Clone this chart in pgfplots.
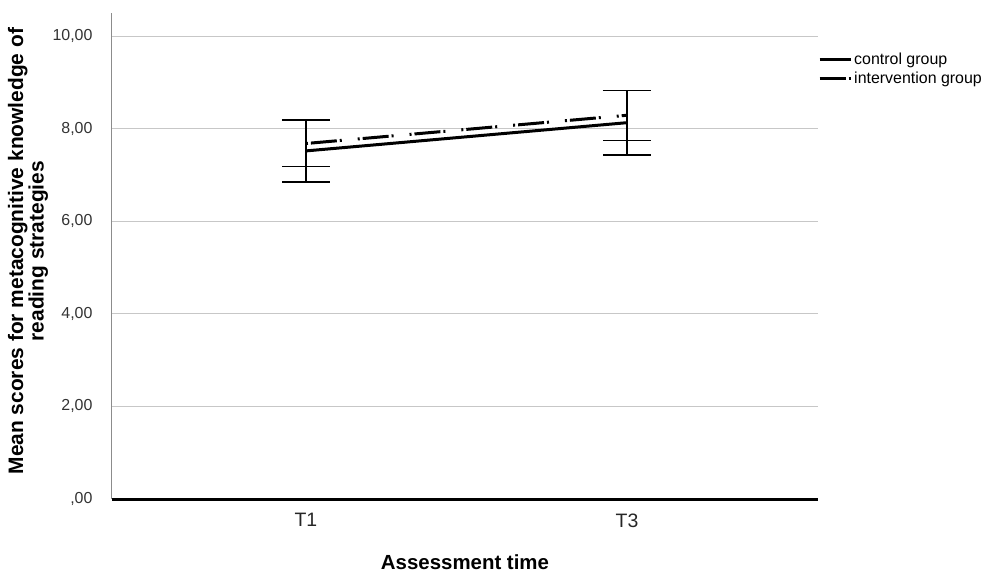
\documentclass[border=0pt]{standalone}
\usepackage{fontspec}
\setmainfont{Liberation Sans}
\usepackage{pgfplots}
\pgfplotsset{compat=1.18}
\begin{document}
\begin{tikzpicture}
\begin{axis}[
  scale only axis, width=706bp, height=486bp,
  xmin=-0.604, xmax=1.595, ymin=0, ymax=10.5,
  axis x line=bottom, axis y line=left,
  every outer x axis line/.append style={-, black, line width=3bp},
  every outer y axis line/.append style={-, black!45, line width=1bp},
  xtick={0,1}, xticklabels={T1,T3},
  ytick={0,2,4,6,8,10},
  yticklabels={{,00},{2,00},{4,00},{6,00},{8,00},{10,00}},
  major tick length=0pt,
  ymajorgrids, grid style={black!22, line width=1.2bp},
  yticklabel style={font=\fontsize{16}{18}\selectfont, text=black!80, xshift=-16bp},
  xticklabel style={font=\fontsize{19.5}{22}\selectfont, text=black!85, yshift=-11bp},
  xlabel={Assessment time},
  xlabel style={font=\bfseries\fontsize{20.5}{22}\selectfont, at={(axis description cs:0.5,-0.1296)}, anchor=center},
  ylabel={Mean scores for metacognitive knowledge of\\reading strategies},
  ylabel style={font=\bfseries\fontsize{21}{19}\selectfont, align=center, at={(axis description cs:-0.119,0.51)}, anchor=center},
  clip=false,
  legend style={draw=none, fill=none, at={(axis description cs:1,0.884)}, anchor=west,
    inner xsep=0pt, inner ysep=0pt, font=\fontsize{16}{18}\selectfont, row sep=2bp,
    cells={anchor=west}},
  legend image code/.code={\draw[#1, dash phase=5bp] (0bp,0bp) -- (31bp,0bp);},
]
\addplot[black, line width=3bp,
  error bars/.cd, y dir=both, y explicit,
  error bar style={line width=1.3bp, solid},
  error mark options={rotate=90, line width=1.3bp, mark size=24bp, solid, black}]
  coordinates {(0,7.52) +- (0,0.67) (1,8.13) +- (0,0.70)};
\addlegendentry{control group}
\addplot[black, line width=3bp, dash pattern=on 2bp off 3bp on 26bp off 3bp on 2bp off 16bp,
  error bars/.cd, y dir=both, y explicit,
  error bar style={line width=1.3bp, solid},
  error mark options={rotate=90, line width=1.3bp, mark size=24bp, solid, black}]
  coordinates {(0,7.68) +- (0,0.49) (1,8.29) +- (0,0.54)};
\addlegendentry{intervention group}
\coordinate (bbl) at (axis description cs:-0.1586,-0.1461);
\coordinate (btr) at (axis description cs:1.2365,1.0267);
\end{axis}
\path (bbl) rectangle (btr);
\end{tikzpicture}
\end{document}
